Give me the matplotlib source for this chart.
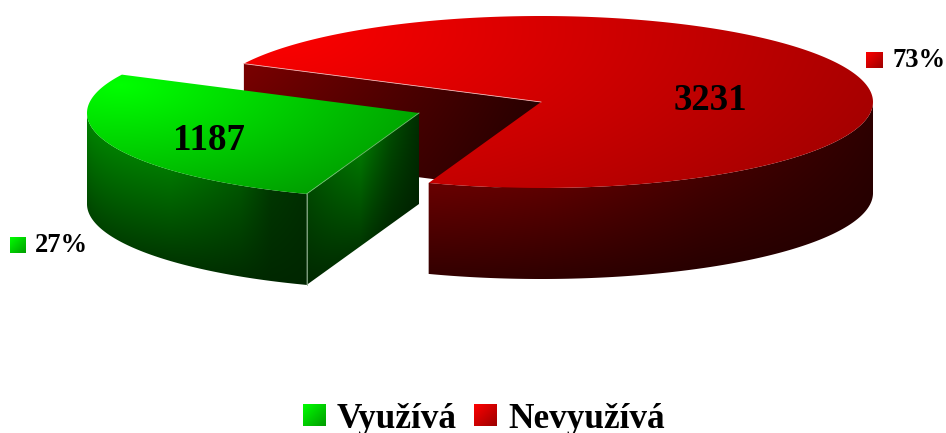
import numpy as np
import matplotlib
matplotlib.use('Agg')
import matplotlib.pyplot as plt
from matplotlib.patches import Polygon

# data
categories = ['Využívá', 'Nevyužívá']
values = [1187, 3231]
percent_labels = ['27%', '73%']

plt.rcParams['font.family'] = ['Liberation Serif', 'DejaVu Serif']

# pie geometry in pixels
RX, RY, DEPTH = 332, 86, 91
RED_C = (541, 102)
GREEN_C = (419, 113)
START = 153.5
GREEN_CH = 1
RED_CH = 0

fig = plt.figure(figsize=(9.46, 4.33), dpi=100)
ax = fig.add_axes([0, 0, 1, 1])


def arc(c, a0, a1, dy=0):
    t = np.radians(np.linspace(a0, a1, 300))
    return np.column_stack([c[0] + RX * np.cos(t), c[1] - RY * np.sin(t) + dy])


def paint(pts, channel, shade):
    # fill a polygon with a per pixel gradient
    x0, y0 = np.floor(pts.min(axis=0)) - 1
    x1, y1 = np.ceil(pts.max(axis=0)) + 1
    X, Y = np.meshgrid(np.arange(x0, x1) + 0.5, np.arange(y0, y1) + 0.5)
    img = np.zeros(X.shape + (3,))
    img[..., channel] = np.clip(shade(X, Y), 0, 255) / 255
    im = ax.imshow(img, extent=(x0, x1, y1, y0), aspect='auto', interpolation='bilinear')
    im.set_clip_path(Polygon(pts, closed=True, transform=ax.transData))


def swatch(x, y, w, h, channel):
    pts = np.array([[x, y], [x + w, y], [x + w, y + h], [x, y + h]], dtype=float)
    paint(pts, channel, lambda X, Y: 255 - 100 * ((X - x) / w + (Y - y) / h) / 2)


def side_shade(c, xs, top, bottom):
    # curved outer wall: colour runs from the rim down to the lower rim
    def shade(X, Y):
        u = np.clip((X - c[0]) / RX, -1, 1)
        rim = c[1] + RY * np.sqrt(1 - u ** 2)
        rel = np.clip((Y - rim) / DEPTH, 0, 1)
        return np.interp(X, xs, top) * (1 - rel) + np.interp(X, xs, bottom) * rel
    return shade


def cut_shade(p0, p1, xs, top, bottom):
    # flat cut wall: rim is the straight edge p0-p1
    def shade(X, Y):
        rim = p0[1] + (X - p0[0]) * (p1[1] - p0[1]) / (p1[0] - p0[0])
        rel = np.clip((Y - rim) / DEPTH, 0, 1)
        return np.interp(X, xs, top) * (1 - rel) + np.interp(X, xs, bottom) * rel
    return shade


def top_shade(cx, cy, hi, lo, reach):
    def shade(X, Y):
        d = np.sqrt((X - cx) ** 2 + (2.5 * (Y - cy)) ** 2)
        return hi - (hi - lo) * d / reach
    return shade


green_span = 360 * values[0] / sum(values)
split = START + green_span

# red slice
red_corner = arc(RED_C, START, START)[0]
red_inner = np.array([red_corner, RED_C, (RED_C[0], RED_C[1] + DEPTH),
                      (red_corner[0], red_corner[1] + DEPTH)])
paint(red_inner, RED_CH, cut_shade(red_corner, RED_C, [247, 400, 541], [122, 78, 40], [95, 62, 30]))

red_side = np.vstack([arc(RED_C, split, 360), arc(RED_C, 360, split, DEPTH)])
paint(red_side, RED_CH, side_shade(RED_C, [429, 550, 700, 873], [105, 92, 68, 46], [52, 46, 40, 38]))

red_top = np.vstack([[RED_C], arc(RED_C, split, START + 360)])
paint(red_top, RED_CH, top_shade(260, 30, 255, 170, 617))
ax.plot([red_corner[0], RED_C[0]], [red_corner[1], RED_C[1]], color='#f0b0b0', lw=0.6)

# green slice
green_side = np.vstack([arc(GREEN_C, 180, split), arc(GREEN_C, split, 180, DEPTH)])
paint(green_side, GREEN_CH, side_shade(GREEN_C, [87, 170, 240, 270, 307], [130, 120, 85, 55, 45], [68, 55, 45, 40, 38]))

green_corner = arc(GREEN_C, split, split)[0]
green_cut = np.array([green_corner, GREEN_C, (GREEN_C[0], GREEN_C[1] + DEPTH),
                      (green_corner[0], green_corner[1] + DEPTH)])
paint(green_cut, GREEN_CH, cut_shade(green_corner, GREEN_C, [307, 360, 390, 419], [70, 118, 75, 45], [40, 55, 42, 35]))

green_top = np.vstack([[GREEN_C], arc(GREEN_C, START, split)])
paint(green_top, GREEN_CH, top_shade(120, 85, 255, 165, 310))
ax.plot([green_corner[0], GREEN_C[0]], [green_corner[1], GREEN_C[1]], color='#70c070', lw=0.6)
ax.plot([green_corner[0]] * 2, [green_corner[1], green_corner[1] + DEPTH], color='#90b090', lw=0.6)

# numbers on the slices
ax.text(209, 141, str(values[0]), fontsize=26.6, fontweight='bold', ha='center', va='center')
ax.text(710, 101, str(values[1]), fontsize=26.6, fontweight='bold', ha='center', va='center')

# percent labels
swatch(10, 237, 16, 16, GREEN_CH)
ax.text(35, 252, percent_labels[0], fontsize=19.2, fontweight='bold', ha='left', va='baseline')
swatch(866, 52, 17, 16, RED_CH)
ax.text(892, 67, percent_labels[1], fontsize=19.2, fontweight='bold', ha='left', va='baseline')

# legend
swatch(303, 404, 23, 22, GREEN_CH)
ax.text(337, 428, categories[0], fontsize=25.4, fontweight='bold', ha='left', va='baseline')
swatch(474, 404, 23, 22, RED_CH)
ax.text(508, 428, categories[1], fontsize=25.4, fontweight='bold', ha='left', va='baseline')

ax.set_xlim(0, 946)
ax.set_ylim(433, 0)
ax.axis('off')
fig.savefig('out.png', dpi=100, facecolor='white')
